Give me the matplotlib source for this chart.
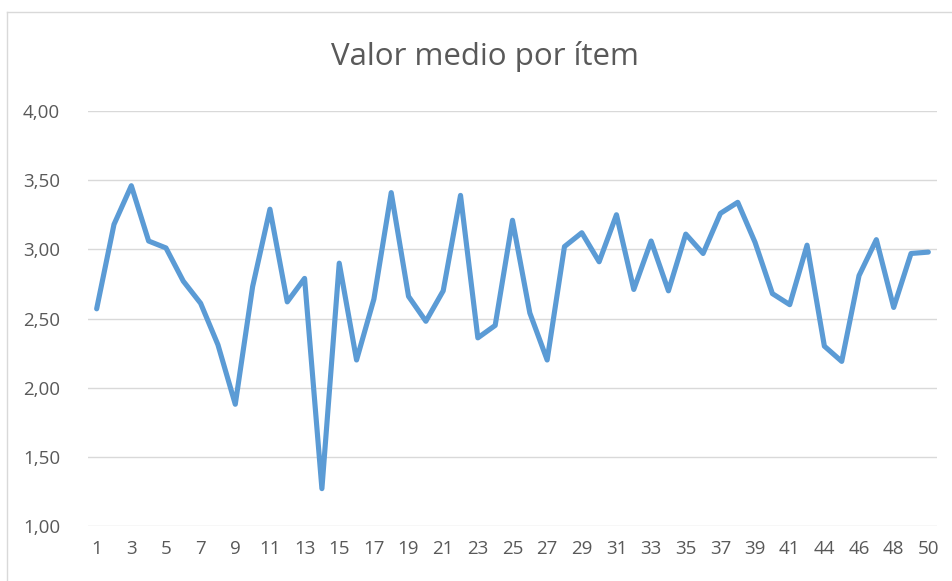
import matplotlib
matplotlib.use("Agg")
import matplotlib.pyplot as plt
from matplotlib.lines import Line2D

# Mean score per item (item 43 is not in the series)
items = list(range(1, 43)) + list(range(44, 51))
means = [2.57, 3.18, 3.46, 3.06, 3.01, 2.77, 2.61, 2.31, 1.88, 2.73,
         3.29, 2.62, 2.79, 1.27, 2.90, 2.20, 2.64, 3.41, 2.66, 2.48,
         2.70, 3.39, 2.36, 2.45, 3.21, 2.54, 2.20, 3.02, 3.12, 2.91,
         3.25, 2.71, 3.06, 2.70, 3.11, 2.97, 3.26, 3.34, 3.05, 2.68,
         2.60, 3.03, 2.30, 2.19, 2.81, 3.07, 2.58, 2.97, 2.98]
y_ticks = [1.0, 1.5, 2.0, 2.5, 3.0, 3.5, 4.0]

TEXT = "#595959"
GRID = "#D9D9D9"
LINE = "#5B9BD5"

plt.rcParams["font.family"] = ["Open Sans", "DejaVu Sans"]

fig = plt.figure(figsize=(9.53, 5.81), dpi=100)
ax = fig.add_axes([88 / 953, 55 / 581, 849 / 953, 415 / 581])

pos = list(range(1, len(items) + 1))
ax.plot(pos, means, color=LINE, linewidth=3.7, solid_joinstyle="round",
        solid_capstyle="round", zorder=3)

ax.set_xlim(0.5, len(items) + 0.5)
ax.set_ylim(1.0, 4.0)
ax.set_yticks(y_ticks)
ax.set_yticklabels([f"{v:.2f}".replace(".", ",") for v in y_ticks])
ax.set_xticks(pos[::2])
ax.set_xticklabels([str(i) for i in items[::2]])
ax.grid(axis="y", color=GRID, linewidth=1.0, zorder=0)
ax.tick_params(length=0, labelsize=13.5, colors=TEXT)
ax.tick_params(axis="y", pad=20)
ax.tick_params(axis="x", pad=10)
for s in ax.spines.values():
    s.set_visible(False)
ax.set_clip_on(False)

fig.suptitle("Valor medio por ítem", x=485 / 953, y=1 - 56 / 581, va="center",
             fontsize=22.5, color=TEXT)

# chart-area border
fig.add_artist(Line2D([6.5 / 953, 6.5 / 953], [0, 1 - 11.5 / 581],
                      transform=fig.transFigure, color=GRID, linewidth=1.0))
fig.add_artist(Line2D([6.5 / 953, 1], [1 - 11.5 / 581, 1 - 11.5 / 581],
                      transform=fig.transFigure, color=GRID, linewidth=1.0))

fig.savefig("out.png", dpi=100)
